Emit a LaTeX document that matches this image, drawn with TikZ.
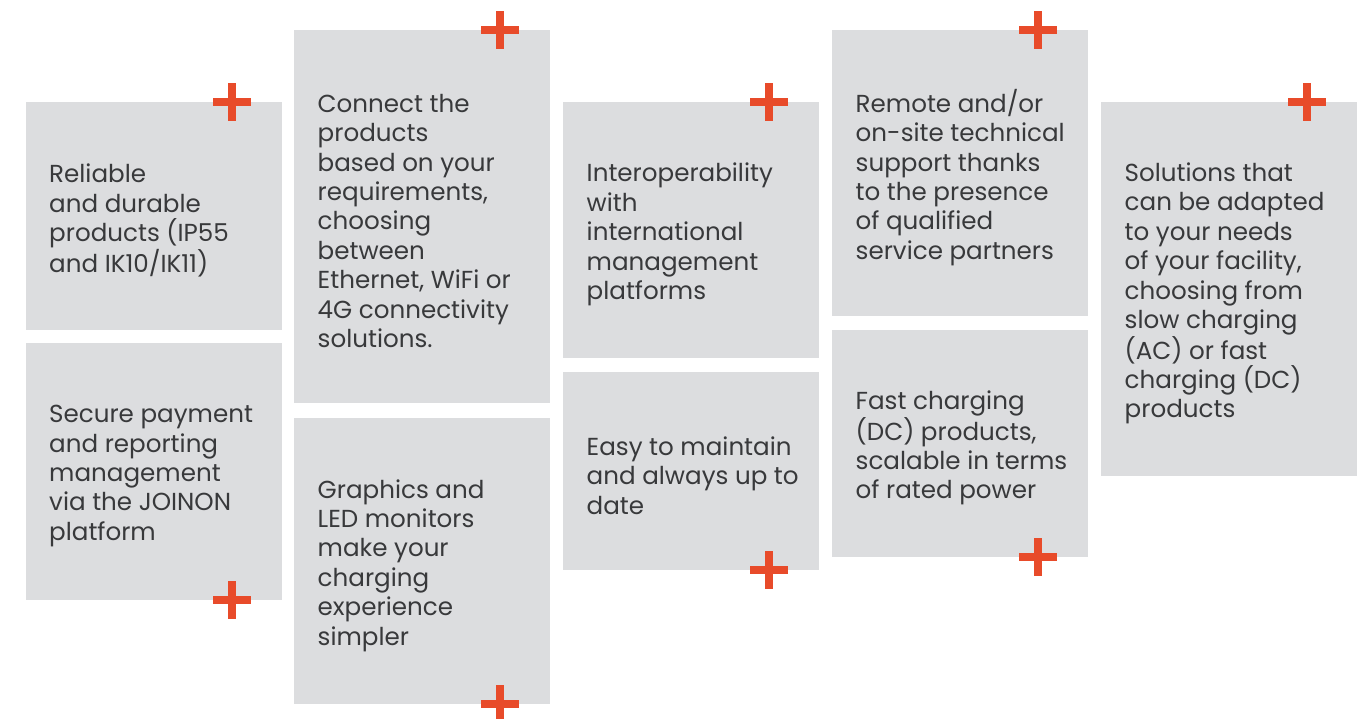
\documentclass[tikz,border=0pt]{standalone}
\usepackage{fontspec}
\setmainfont{Poppins}
\definecolor{boxgray}{HTML}{DCDDDF}
\definecolor{accent}{HTML}{E84B2A}
\definecolor{ink}{HTML}{38393B}
\begin{document}
\begin{tikzpicture}[x=1pt,y=-1pt,
  card/.style={fill=boxgray, draw=none, minimum width=256pt, inner sep=0pt, outer sep=0pt},
  txt/.style={anchor=west, align=left, inner sep=0pt, text=ink, font=\fontsize{24.6}{29.4}\selectfont},
  orangeplus/.pic={\fill[accent] (-19,-4) rectangle (19,4); \fill[accent] (-4,-19) rectangle (4,19);}
]
\useasboundingbox (0,0) rectangle (1368,719);
% boxes
\node[card, minimum height=228pt] (A) at (153.5,216) {};
\node[card, minimum height=257pt] (B) at (153.5,471.5) {};
\node[card, minimum height=373pt] (C) at (422,216.5) {};
\node[card, minimum height=286pt] (D) at (422,561) {};
\node[card, minimum height=256pt] (E) at (691,230) {};
\node[card, minimum height=198pt] (F) at (691,471) {};
\node[card, minimum height=286pt] (G) at (960,173) {};
\node[card, minimum height=227pt] (H) at (960,443.5) {};
\node[card, minimum height=374pt] (I) at (1229,289) {};
% texts
\node[txt] (At) at ([xshift=23.5pt,yshift=-4.5pt]A.west) {Reliable\\and durable\\products (IP55\\and IK10/IK11)};
\node[txt] (Bt) at ([xshift=23.5pt,yshift=-4.5pt]B.west) {Secure payment\\and reporting\\management\\via the JOINON\\platform};
\node[txt] (Ct) at ([xshift=23.5pt,yshift=-4.5pt]C.west) {Connect the\\products\\based on your\\requirements,\\choosing\\between\\Ethernet, WiFi or\\4G connectivity\\solutions.};
\node[txt] (Dt) at ([xshift=23.5pt,yshift=-4.5pt]D.west) {Graphics and\\LED monitors\\make your\\charging\\experience\\simpler};
\node[txt] (Et) at ([xshift=23.5pt,yshift=-4.5pt]E.west) {Interoperability\\with\\international\\management\\platforms};
\node[txt] (Ft) at ([xshift=23.5pt,yshift=-4.5pt]F.west) {Easy to maintain\\and always up to\\date};
\node[txt] (Gt) at ([xshift=23.5pt,yshift=-4.5pt]G.west) {Remote and/or\\on-site technical\\support thanks\\to the presence\\of qualified\\service partners};
\node[txt] (Ht) at ([xshift=23.5pt,yshift=-4.5pt]H.west) {Fast charging\\(DC) products,\\scalable in terms\\of rated power};
\node[txt] (It) at ([xshift=23.5pt,yshift=-4.5pt]I.west) {Solutions that\\can be adapted\\to your needs\\of your facility,\\choosing from\\slow charging\\(AC) or fast\\charging (DC)\\products};
% plus signs
\pic at (232,102) {orangeplus};
\pic at (232,600) {orangeplus};
\pic at (500,30) {orangeplus};
\pic at (500,704) {orangeplus};
\pic at (769,102) {orangeplus};
\pic at (769,570) {orangeplus};
\pic at (1038,30) {orangeplus};
\pic at (1038,557) {orangeplus};
\pic at (1307,102) {orangeplus};
\end{tikzpicture}
\end{document}
